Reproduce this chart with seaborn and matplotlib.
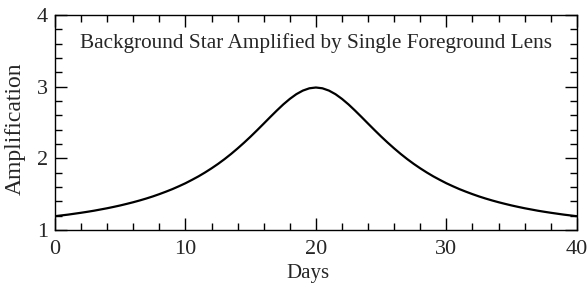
import numpy as np
import pandas as pd
import matplotlib
matplotlib.use("Agg")
import matplotlib.pyplot as plt
from matplotlib.ticker import MultipleLocator
import seaborn as sns

# light curve, half-day steps from day 0 to day 40
days = np.arange(0, 40.5, 0.5)
amplification = [
    1.191, 1.202, 1.213, 1.226, 1.239, 1.253, 1.268, 1.285, 1.302, 1.321,
    1.341, 1.363, 1.386, 1.411, 1.438, 1.467, 1.499, 1.533, 1.569, 1.609,
    1.651, 1.698, 1.747, 1.801, 1.859, 1.921, 1.988, 2.060, 2.137, 2.218,
    2.303, 2.392, 2.483, 2.575, 2.665, 2.751, 2.828, 2.894, 2.944, 2.976,
    2.987,
    2.976, 2.944, 2.894, 2.828, 2.751, 2.665, 2.575, 2.483, 2.392, 2.303,
    2.218, 2.137, 2.060, 1.988, 1.921, 1.859, 1.801, 1.747, 1.698, 1.651,
    1.609, 1.569, 1.533, 1.499, 1.467, 1.438, 1.411, 1.386, 1.363, 1.341,
    1.321, 1.302, 1.285, 1.268, 1.253, 1.239, 1.226, 1.213, 1.202, 1.191,
]
title_text = "Background Star Amplified by Single Foreground Lens"

df = pd.DataFrame({"Days": days, "Amplification": amplification})

sns.set_style("ticks")
plt.rcParams["font.family"] = ["Liberation Serif", "DejaVu Serif"]

fig = plt.figure(figsize=(5.88, 2.87), dpi=100)
ax = fig.add_axes([0.0935, 0.199, 0.8875, 0.749])

sns.lineplot(data=df, x="Days", y="Amplification", color="black", linewidth=1.6, ax=ax)

ax.set_xlim(0, 40)
ax.set_ylim(1, 4)
ax.xaxis.set_major_locator(MultipleLocator(10))
ax.xaxis.set_minor_locator(MultipleLocator(2))
ax.yaxis.set_major_locator(MultipleLocator(1))
ax.yaxis.set_minor_locator(MultipleLocator(0.2))
ax.tick_params(which="both", direction="in", top=True, right=True, width=1.0,
               color="black", labelsize=16)
ax.tick_params(which="major", length=8.5)
ax.tick_params(which="minor", length=5)
ax.tick_params(axis="x", which="major", pad=7)
ax.tick_params(axis="y", which="major", pad=5)
for sp in ax.spines.values():
    sp.set_visible(True)
    sp.set_linewidth(1.0)
    sp.set_color("black")

ax.set_xlabel("Days", fontsize=15)
ax.xaxis.set_label_coords(0.485, -0.16)
ax.set_ylabel("Amplification", fontsize=17)
ax.yaxis.set_label_coords(-0.056, 0.47)
ax.text(0.5, 0.87, title_text, transform=ax.transAxes, ha="center", va="center",
        fontsize=15.3)

fig.savefig("out.png", dpi=100)
